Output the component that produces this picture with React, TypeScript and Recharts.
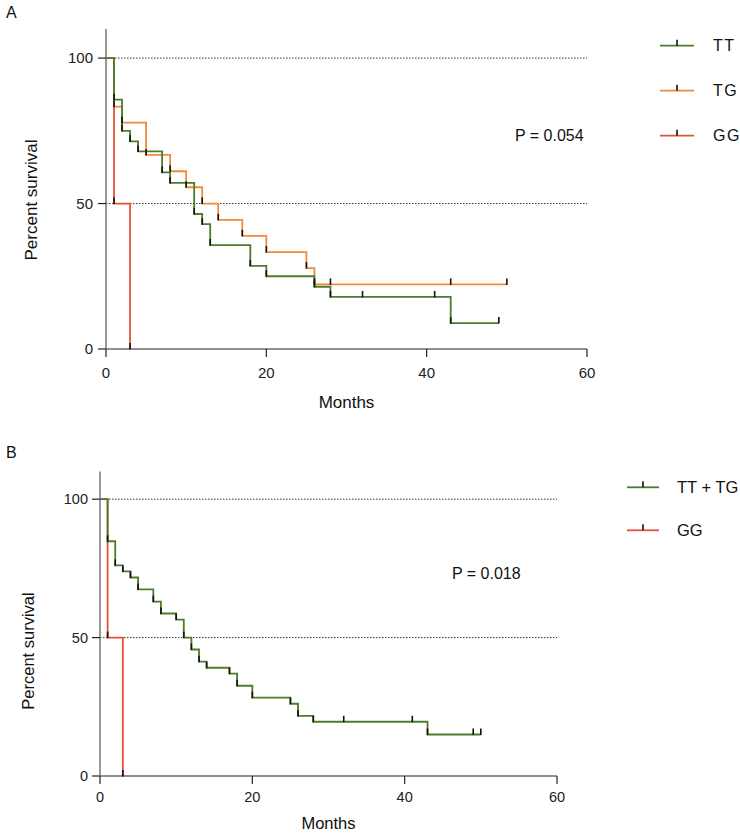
import React from "react";
import { LineChart, Line, XAxis, YAxis, ReferenceLine } from "recharts";

// Panel A — Kaplan-Meier steps per genotype (months, percent survival)
const ttMonths = [0, 1, 2, 3, 4, 7, 8, 11, 12, 13, 18, 20, 26, 28, 32, 41, 43, 49];
const ttSurvival = [100, 85.7, 75, 71.4, 67.9, 60.7, 57.1, 46.4, 42.9, 35.7, 28.6, 25, 21.4, 17.9, 17.9, 17.9, 8.9, 8.9];

const tgMonths = [0, 1, 2, 5, 8, 10, 12, 14, 17, 20, 25, 26, 28, 43, 50];
const tgSurvival = [100, 83.3, 77.8, 66.7, 61.1, 55.6, 50, 44.4, 38.9, 33.3, 27.8, 22.2, 22.2, 22.2, 22.2];

const ggMonths = [0, 1, 3];
const ggSurvival = [100, 50, 0];

// Panel B — TT + TG pooled
const ttTgMonths = [0, 1, 2, 3, 4, 5, 7, 8, 10, 11, 12, 13, 14, 17, 18, 20, 25, 26, 28, 32, 41, 43, 49, 50];
const ttTgSurvival = [100, 84.8, 76.1, 73.9, 71.7, 67.4, 63.0, 58.7, 56.5, 50.0, 45.7, 41.3, 39.1, 37.0, 32.6, 28.3, 26.1, 21.7, 19.6, 19.6, 19.6, 15, 15, 15];

const xTicks = [0, 20, 40, 60];
const yTicks = [0, 50, 100];

const legendA = ["TT", "TG", "GG"];
const legendB = ["TT + TG", "GG"];

const GREEN = "#4c7c2c";
const ORANGE = "#f08a3a";
const RED = "#e2533a";
const FONT = '"Liberation Sans", Arial, sans-serif';

const toSeries = (months: number[], surv: number[]) =>
  months.map((t, i) => ({ t, s: surv[i] }));

const tt = toSeries(ttMonths, ttSurvival);
const tg = toSeries(tgMonths, tgSurvival);
const gg = toSeries(ggMonths, ggSurvival);
const ttTg = toSeries(ttTgMonths, ttTgSurvival);

// black upward tick at each event / censor point (Prism style)
const censorTick = (name: string) => (props: any) => {
  const { cx, cy, index } = props;
  const key = `${name}-${index}`;
  if (index === 0 || cx == null || cy == null) return <g key={key} />;
  return <line key={key} x1={cx} x2={cx} y1={cy + 0.5} y2={cy - 6} stroke="#111" strokeWidth={1.6} />;
};

const xTitle = (y: number, size: number) => (props: any) => {
  const vb = props.viewBox;
  return (
    <text x={vb.x + vb.width / 2} y={y} textAnchor="middle" fontSize={size} fontFamily={FONT} fill="#111">
      Months
    </text>
  );
};

const yTitle = (x: number, y: number, size: number) => () => (
  <text
    transform={`translate(${x},${y}) rotate(-90)`}
    textAnchor="middle"
    dominantBaseline="central"
    fontSize={size}
    fontFamily={FONT}
    fill="#111"
  >
    Percent survival
  </text>
);

const App = () => {
  return (
    <div style={{ position: "absolute", left: 0, top: 0, width: 740, height: 833, background: "#fff" }}>
      {/* A */}
      <div style={{ position: "absolute", left: 0, top: 0 }}>
        <LineChart width={740} height={414} margin={{ top: 29, right: 153, bottom: 5, left: 46 }}>
          <XAxis
            type="number"
            dataKey="t"
            domain={[0, 60]}
            ticks={xTicks}
            height={60}
            tickSize={8}
            tickMargin={10}
            axisLine={{ stroke: "#222", strokeWidth: 1.2 }}
            tickLine={{ stroke: "#222", strokeWidth: 1.2 }}
            tick={{ fill: "#222", fontSize: 15, fontFamily: FONT }}
            label={{ content: xTitle(408, 17) }}
          />
          <YAxis
            type="number"
            domain={[0, 110]}
            ticks={yTicks}
            width={60}
            tickSize={8}
            tickMargin={5}
            axisLine={{ stroke: "#777", strokeWidth: 1.5 }}
            tickLine={{ stroke: "#222", strokeWidth: 1.2 }}
            tick={{ fill: "#222", fontSize: 15, fontFamily: FONT }}
            label={{ content: yTitle(31, 200, 17) }}
          />
          <ReferenceLine y={100} stroke="#333" strokeDasharray="1.5 1.5" />
          <ReferenceLine y={50} stroke="#333" strokeDasharray="1.5 1.5" />
          <Line data={gg} dataKey="s" type="stepAfter" stroke={RED} strokeWidth={1.8} dot={censorTick("gg")} isAnimationActive={false} />
          <Line data={tg} dataKey="s" type="stepAfter" stroke={ORANGE} strokeWidth={1.8} dot={censorTick("tg")} isAnimationActive={false} />
          <Line data={tt} dataKey="s" type="stepAfter" stroke={GREEN} strokeWidth={1.8} dot={censorTick("tt")} isAnimationActive={false} />
        </LineChart>
      </div>

      {/* B */}
      <div style={{ position: "absolute", left: 0, top: 430 }}>
        <LineChart width={740} height={403} margin={{ top: 41.5, right: 183, bottom: 0, left: 40 }}>
          <XAxis
            type="number"
            dataKey="t"
            domain={[0, 60]}
            ticks={xTicks}
            height={57}
            tickSize={8}
            tickMargin={8}
            axisLine={{ stroke: "#222", strokeWidth: 1.2 }}
            tickLine={{ stroke: "#222", strokeWidth: 1.2 }}
            tick={{ fill: "#222", fontSize: 14.5, fontFamily: FONT }}
            label={{ content: xTitle(398.5, 16.5) }}
          />
          <YAxis
            type="number"
            domain={[0, 110]}
            ticks={yTicks}
            width={60}
            tickSize={8}
            tickMargin={4}
            axisLine={{ stroke: "#777", strokeWidth: 1.5 }}
            tickLine={{ stroke: "#222", strokeWidth: 1.2 }}
            tick={{ fill: "#222", fontSize: 14.5, fontFamily: FONT }}
            label={{ content: yTitle(28, 221, 16.5) }}
          />
          <ReferenceLine y={100} stroke="#333" strokeDasharray="1.5 1.5" />
          <ReferenceLine y={50} stroke="#333" strokeDasharray="1.5 1.5" />
          <Line data={gg} dataKey="s" type="stepAfter" stroke={RED} strokeWidth={1.8} dot={censorTick("gg2")} isAnimationActive={false} />
          <Line data={ttTg} dataKey="s" type="stepAfter" stroke={GREEN} strokeWidth={1.8} dot={censorTick("tttg")} isAnimationActive={false} />
        </LineChart>
      </div>

      {/* legends, p-values, panel letters */}
      <svg width={740} height={833} style={{ position: "absolute", left: 0, top: 0, pointerEvents: "none" }} fontFamily={FONT}>
        <text x={6} y={12} dominantBaseline="central" fontSize={16} fill="#111">A</text>
        <text x={6} y={452} dominantBaseline="central" fontSize={16} fill="#111">B</text>

        {legendA.map((name, i) => {
          const y = 45.7 + i * 45;
          const color = [GREEN, ORANGE, RED][i];
          return (
            <g key={name}>
              <line x1={660} x2={694} y1={y} y2={y} stroke={color} strokeWidth={1.8} />
              <line x1={677} x2={677} y1={y} y2={y - 6} stroke="#111" strokeWidth={1.6} />
              <text x={713} y={y} dominantBaseline="central" fontSize={16} letterSpacing={1.5} fill="#111">{name}</text>
            </g>
          );
        })}
        <text x={515} y={135} dominantBaseline="central" fontSize={16} fill="#111">P = 0.054</text>

        {legendB.map((name, i) => {
          const y = 487.3 + i * 43;
          const color = [GREEN, RED][i];
          return (
            <g key={name}>
              <line x1={627} x2={659} y1={y} y2={y} stroke={color} strokeWidth={1.8} />
              <line x1={643} x2={643} y1={y} y2={y - 6} stroke="#111" strokeWidth={1.6} />
              <text x={677} y={y} dominantBaseline="central" fontSize={16.5} fill="#111">{name}</text>
            </g>
          );
        })}
        <text x={452} y={573} dominantBaseline="central" fontSize={16} fill="#111">P = 0.018</text>
      </svg>
    </div>
  );
};

export default App;
